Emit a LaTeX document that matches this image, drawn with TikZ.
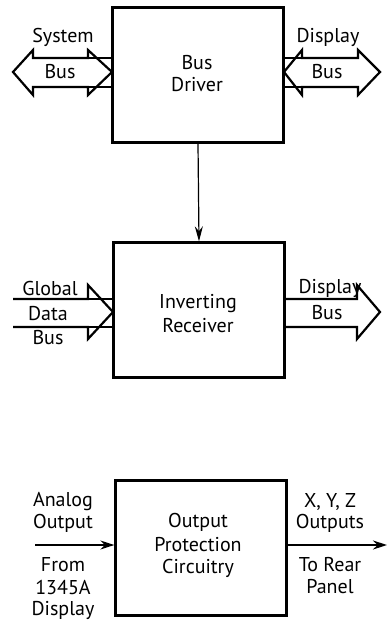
\documentclass[tikz,border=0pt]{standalone}
\usepackage{fontspec}
\setmainfont{PT Sans}
\usetikzlibrary{arrows.meta}
\begin{document}
\begin{tikzpicture}[x=1pt,y=-1pt,
 box/.style={draw,line width=2.3pt,minimum width=171pt,minimum height=135pt,inner sep=0pt},
 lbl/.style={font=\fontsize{20}{22}\selectfont,inner sep=0pt,anchor=center},
 bus/.style={draw,line width=2.2pt,line join=miter},
 sig/.style={draw,line width=1.6pt,-{Stealth[length=14pt,width=9pt]}}]
\useasboundingbox (0,0) rectangle (388,627);
% boxes
\node[box] (bd) at (198,75) {};
\node[box] (ir) at (199,310) {};
\node[box] (op) at (201,548) {};
% box texts
\node[lbl] (t1) at (197,63) {Bus};
\node[lbl] (t2) at (197,85) {Driver};
\node[lbl] (t3) at (198,304) {Inverting};
\node[lbl] (t4) at (198,326) {Receiver};
\node[lbl] (t5) at (198,522) {Output};
\node[lbl] (t6) at (198,545) {Protection};
\node[lbl] (t7) at (198,568) {Circuitry};
% connector
\draw[line width=1.2pt,-{Stealth[length=15pt,width=8pt]}] (bd.south) -- (ir.north);
% system bus
\draw[bus] (13,72)--(33,50)--(33,58)--(88,58)--(88,50)--(112,72)--(88,95)--(88,87)--(33,87)--(33,95)--cycle;
\draw[bus] (88,58)--(113,58) (88,87)--(113,87);
\node[lbl] (s1) at (63,37) {System};
\node[lbl] (s2) at (60,72) {Bus};
% display bus top
\draw[bus] (284,72)--(302,50)--(302,58)--(358,58)--(358,50)--(380,72)--(358,95)--(358,87)--(302,87)--(302,95)--cycle;
\draw[bus] (283,58)--(302,58) (283,87)--(302,87);
\node[lbl] (d1) at (328,37) {Display};
\node[lbl] (d2) at (327,72) {Bus};
% global data bus
\draw[bus] (13,299)--(88,299)--(88,285)--(113,312)--(88,339)--(88,327)--(13,327);
\draw[bus] (88,299)--(113,299) (88,327)--(113,327);
\node[lbl] (g1) at (50,288) {Global};
\node[lbl] (g2) at (48,314) {Data};
\node[lbl] (g3) at (48,338) {Bus};
% display bus lower
\draw[bus] (285,299)--(357,299)--(357,285)--(380,312)--(357,339)--(357,327)--(285,327);
\node[lbl] (e1) at (330,288) {Display};
\node[lbl] (e2) at (327,313) {Bus};
% analog
\coordinate (ain) at (35,545);
\coordinate (aout) at (387,545);
\draw[sig] (ain) -- (op.west |- ain);
\draw[sig] (op.east |- aout) -- (aout);
\node[lbl] (a1) at (63,502) {Analog};
\node[lbl] (a2) at (63,523) {Output};
\node[lbl] (a3) at (63,565) {From};
\node[lbl] (a4) at (63,587) {1345A};
\node[lbl] (a5) at (63,610) {Display};
\node[lbl] (x1) at (330,502) {X, Y, Z};
\node[lbl] (x2) at (330,523) {Outputs};
\node[lbl] (x3) at (330,565) {To Rear};
\node[lbl] (x4) at (330,587) {Panel};
\end{tikzpicture}
\end{document}
